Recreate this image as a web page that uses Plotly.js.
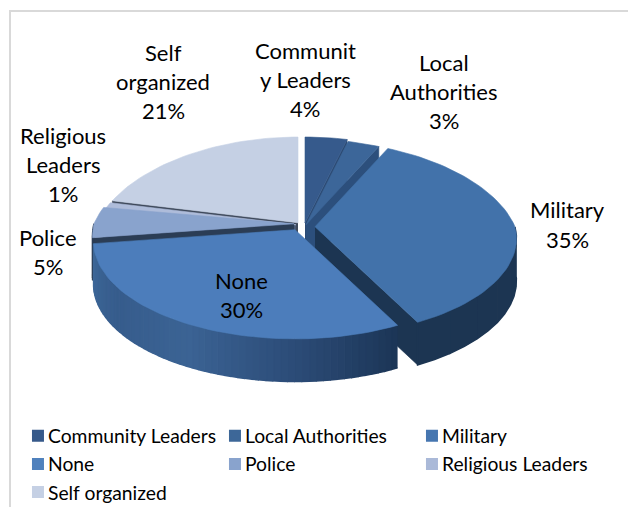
<!DOCTYPE html>
<html><head><meta charset="utf-8">
<script src="https://cdn.plot.ly/plotly-3.0.1.min.js"></script>
<style>html,body{margin:0;padding:0;background:#fff}#c{width:628px;height:512px}</style>
</head><body><div id="c"></div>
<script>
const categories = ["Community Leaders","Local Authorities","Military","None","Police","Religious Leaders","Self organized"];
const values = [4,3,35,30,5,1,21];
const labelLines = [["Communit","y Leaders"],["Local","Authorities"],["Military"],["None"],["Police"],["Religious","Leaders"],["Self","organized"]];
const faceColors = ["#365a8c","#3c6699","#4272aa","#4c7dbb","#89a3cd","#aebcda","#c5d0e4"];
const legendColors = ["#36598a","#3d6798","#4676b0","#4f81bd","#89a3cd","#aab9d8","#c5d0e4"];
const wallColors = [["#2c4a73"],["#2c4f7c"],["#1c3552"],["#3e6899","#365c8c","#3b6394","#2c4c78","#1c3657"],["#2b3d55"],["#4a5a75"],["#3f4a5c"]];
const apexX = [305,306,315,295,294,296,298];
const apexY = [225,227,229,232,226,227,225];
const labelPos = [[305,51],[444,63],[567,212],[241,283],[48,240],[63,137],[163,53]];
const drawOrder = [6,0,1,2,5,4,3];
const RX=200, RY=97, K=0.12, KX_BACK=0.2, DEPTH=43;

const total = values.reduce((a,b)=>a+b,0);
const starts=[]; let acc=0;
values.forEach(v=>{starts.push(acc/total*360); acc+=v;});
const rad=d=>d*Math.PI/180;
function rim(i,t){const c=Math.cos(rad(t)),s=Math.sin(rad(t)),w=1+K*c,wx=1+(c>0?KX_BACK:K)*c;
  return [apexX[i]+RX*s/wx, apexY[i]-RY*c/w];}
function mix(a,b,f){const p=h=>[1,3,5].map(n=>parseInt(h.substr(n,2),16));
  const A=p(a),B=p(b);return "rgb("+A.map((v,j)=>Math.round(v+(B[j]-v)*f)).join(",")+")";}
function ramp(st,f){if(st.length===1)return st[0];const x=f*(st.length-1),n=Math.min(Math.floor(x),st.length-2);return mix(st[n],st[n+1],x-n);}
const traces=[];
function poly(pts,col,w){traces.push({type:"scatter",mode:"lines",x:pts.map(p=>p[0]),y:pts.map(p=>p[1]),fill:"toself",fillcolor:col,line:{color:col,width:w===undefined?0.6:w},hoverinfo:"skip",showlegend:false});}
drawOrder.forEach(i=>{
  const a=starts[i], b=a+values[i]/total*360, d=DEPTH, ap=[apexX[i],apexY[i]];
  const edge=(i<=2)?b:(i>=4?a:null);
  if(edge!==null){const r=rim(i,edge);poly([ap,r,[r[0],r[1]+d],[ap[0],ap[1]+d]],wallColors[i][0]);}
  const lo=Math.max(a,90), hi=Math.min(b,270);
  if(hi>lo){const n=wallColors[i].length>1?60:6;
    for(let k=0;k<n;k++){const t0=lo+(hi-lo)*k/n,t1=lo+(hi-lo)*(k+1)/n,p=[];
      for(let u=0;u<=2;u++){p.push(rim(i,t0+(t1-t0)*u/2));}
      const q=p.slice().reverse().map(r=>[r[0],r[1]+d]);
      poly(p.concat(q),ramp(wallColors[i].slice().reverse(),k/n),1.5);}
  }
  const pts=[ap];const m=Math.max(8,Math.ceil((b-a)/2));
  for(let u=0;u<=m;u++)pts.push(rim(i,a+(b-a)*u/m));
  pts.push(ap);poly(pts,faceColors[i]);
});
categories.forEach((c,i)=>traces.push({type:"scatter",mode:"markers",x:[null],y:[null],name:c,
  marker:{symbol:"square",size:11,color:legendColors[i]},hoverinfo:"skip"}));

const annotations=[];
categories.forEach((c,i)=>{
  const lines=labelLines[i].concat([values[i]+"%"]);
  lines.forEach((t,j)=>annotations.push({x:labelPos[i][0],y:labelPos[i][1]+j*29.4,xref:"x",yref:"y",text:t,showarrow:false,
    xanchor:"center",yanchor:"middle",font:{family:"Lato, 'Noto Sans', sans-serif",size:22,color:"#000"}}));
});
const layout={width:628,height:512,margin:{l:0,r:0,t:0,b:0},paper_bgcolor:"#fff",plot_bgcolor:"#fff",
  xaxis:{range:[0,628],visible:false,fixedrange:true},
  yaxis:{range:[512,0],visible:false,fixedrange:true},
  annotations,
  shapes:[{type:"rect",xref:"x",yref:"y",x0:10,y0:11,x1:660,y1:540,line:{color:"#d9d9d9",width:2},layer:"below"}],
  legend:{orientation:"h",x:0.0127,y:0.178,xanchor:"left",yanchor:"top",bgcolor:"rgba(0,0,0,0)",
    font:{family:"Lato, 'Noto Sans', sans-serif",size:19.3,color:"#000"},
    entrywidth:152,entrywidthmode:"pixels",itemsizing:"constant",traceorder:"normal",itemclick:false,itemdoubleclick:false},
  showlegend:true};
Plotly.newPlot("c",traces,layout,{displayModeBar:false,staticPlot:true}).then(gd=>{
  gd.querySelectorAll(".legendsymbols").forEach(s=>s.setAttribute("transform","translate(10,0)"));
});
</script></body></html>
